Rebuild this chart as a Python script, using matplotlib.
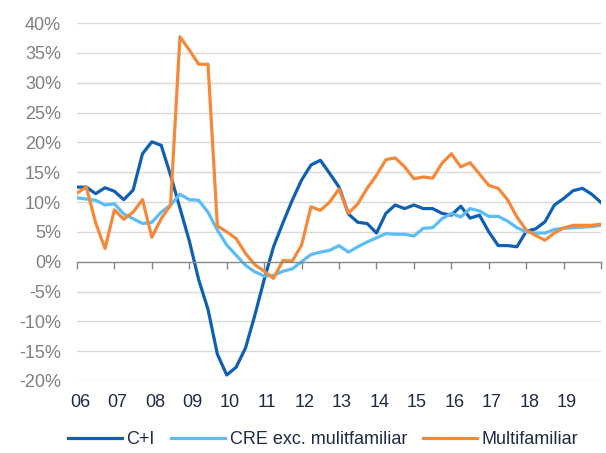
import matplotlib
matplotlib.use("Agg")
import matplotlib.pyplot as plt
import numpy as np

plt.rcParams["font.family"] = ["Liberation Sans", "DejaVu Sans"]

# quarterly growth rates, 2006Q1 .. 2020Q1 (%)
START_YEAR = 2006
ci = [12.5, 12.5, 11.4, 12.4, 11.8, 10.4, 12.0, 18.1, 20.1, 19.5,
      14.5, 9.0, 3.5, -3.0, -8.0, -15.5, -19.0, -17.7, -14.5, -9.0,
      -3.0, 2.5, 6.5, 10.3, 13.7, 16.2, 17.0, 14.8, 12.5, 8.0,
      6.6, 6.4, 4.8, 8.1, 9.5, 8.9, 9.5, 8.9, 8.9, 8.1,
      7.8, 9.3, 7.3, 7.8, 5.0, 2.7, 2.7, 2.5, 5.1, 5.5,
      6.7, 9.5, 10.6, 11.9, 12.3, 11.3, 9.9]
cre = [10.7, 10.5, 10.3, 9.5, 9.7, 8.0, 7.2, 6.4, 6.6, 8.3,
       9.5, 11.3, 10.4, 10.3, 8.3, 5.3, 2.8, 1.1, -0.6, -1.7,
       -2.4, -2.3, -1.6, -1.2, 0.0, 1.2, 1.6, 1.9, 2.7, 1.6,
       2.5, 3.3, 4.0, 4.7, 4.6, 4.6, 4.3, 5.6, 5.7, 7.2,
       8.1, 7.5, 8.9, 8.5, 7.6, 7.6, 6.8, 5.7, 5.0, 4.8,
       4.8, 5.4, 5.6, 5.7, 5.8, 5.9, 6.1]
multi = [11.5, 12.5, 6.5, 2.2, 8.7, 7.1, 8.3, 10.4, 4.1, 7.2,
         9.5, 37.7, 35.5, 33.1, 33.1, 6.0, 5.0, 3.9, 1.4, -0.5,
         -1.6, -2.8, 0.2, 0.1, 2.8, 9.2, 8.6, 10.0, 12.2, 8.1,
         9.7, 12.3, 14.5, 17.1, 17.4, 15.9, 13.9, 14.2, 14.0, 16.5,
         18.1, 15.9, 16.6, 14.7, 12.8, 12.3, 10.4, 7.5, 5.3, 4.4,
         3.6, 4.8, 5.65, 6.1, 6.1, 6.1, 6.3]
year_labels = ["06", "07", "08", "09", "10", "11", "12",
               "13", "14", "15", "16", "17", "18", "19"]

x = START_YEAR + np.arange(len(ci)) / 4

fig = plt.figure(figsize=(6.06, 4.53), dpi=100)
ax = fig.add_axes([0.127, 0.159, 0.865, 0.790])

ax.plot(x, ci, color="#0f5fb3", lw=2.3, label="C+I")
ax.plot(x, cre, color="#5cbcf5", lw=2.3, label="CRE exc. mulitfamiliar")
ax.plot(x, multi, color="#f5893a", lw=2.3, label="Multifamiliar")

ax.set_xlim(2006, 2020)
ax.set_ylim(-20, 40)
yt = np.arange(-20, 41, 5)
ax.set_yticks(yt)
ax.set_yticklabels([f"{v}%" for v in yt], color="#7f7f7f", fontsize=13)
ax.tick_params(axis="y", length=0, pad=11.5)
for v in yt:
    if v != 0:
        ax.axhline(v, color="#d9d9d9", lw=1.0, zorder=0)

for s in ["top", "right", "left"]:
    ax.spines[s].set_visible(False)
ax.spines["bottom"].set_position(("data", 0))
ax.spines["bottom"].set_color("#868686")
ax.spines["bottom"].set_linewidth(1.0)
ax.set_xticks(np.arange(2006, 2021))
ax.set_xticklabels([])
ax.tick_params(axis="x", length=5, width=1.0, color="#868686", direction="out")

# year labels sit under the plot, not on the zero line
for i, lab in enumerate(year_labels):
    ax.text(2006 + i + 0.08, -0.0615, lab, transform=ax.get_xaxis_transform(),
            ha="center", va="center", fontsize=13, color="#1f2a44")

fig.legend(loc="center", bbox_to_anchor=(0.533, 0.0287), ncol=3, frameon=False,
           fontsize=13, handlelength=3.0, handletextpad=0.25, columnspacing=0.9,
           labelcolor="#1f2a44")

fig.savefig("out.png", dpi=100)
